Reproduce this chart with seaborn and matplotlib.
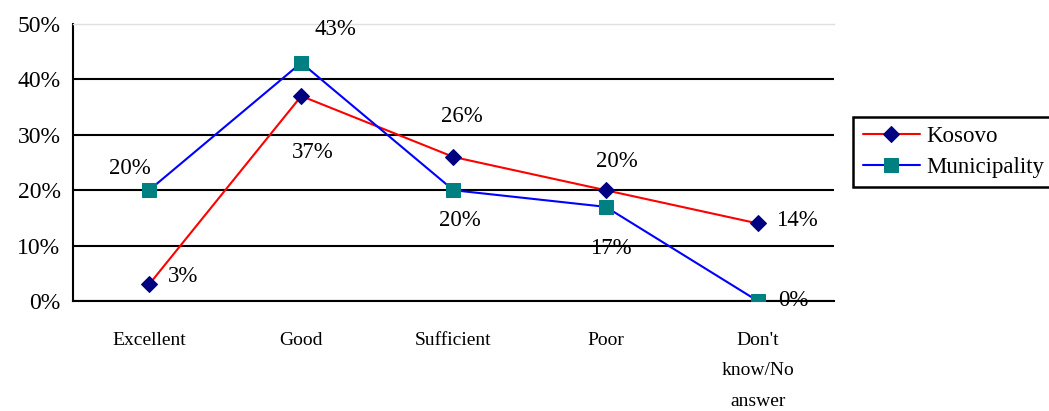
import matplotlib
matplotlib.use("Agg")
import matplotlib.pyplot as plt
import seaborn as sns
import pandas as pd

categories = ["Excellent", "Good", "Sufficient", "Poor", "Don't\nknow/No\nanswer"]
kosovo = [3, 37, 26, 20, 14]
municipality = [20, 43, 20, 17, 0]
y_ticks = [0, 10, 20, 30, 40, 50]

sns.set_theme(style="white")
plt.rcParams["font.family"] = ["Liberation Serif", "DejaVu Serif"]
plt.rcParams["text.color"] = "black"
plt.rcParams["xtick.color"] = "black"
plt.rcParams["ytick.color"] = "black"
plt.rcParams["xtick.labelcolor"] = "black"
plt.rcParams["ytick.labelcolor"] = "black"

fig = plt.figure(figsize=(10.49, 4.11), dpi=100)
ax = fig.add_axes([0.0696, 0.2676, 0.7254, 0.674])

df = pd.DataFrame({
    "pos": list(range(len(categories))) * 2,
    "value": kosovo + municipality,
    "series": ["Kosovo"] * len(kosovo) + ["Municipality"] * len(municipality),
})

styles = {
    "Kosovo": dict(color="#ff0000", marker="D", mfc="#000080", ms=8),
    "Municipality": dict(color="#0000ff", marker="s", mfc="#008080", ms=9.5),
}
for name, st in styles.items():
    sub = df[df["series"] == name]
    sns.lineplot(data=sub, x="pos", y="value", ax=ax, color=st["color"],
                 linewidth=1.5, marker=st["marker"], markersize=st["ms"],
                 markerfacecolor=st["mfc"], markeredgecolor=st["mfc"],
                 label=name, legend=False, zorder=5)

# value labels (offsets in pixels)
k_offsets = [(34, 8), (11, -56), (8, 40), (11, 29), (39, 3)]
m_offsets = [(-19, 22), (34, 33), (6, -30), (5, -42), (35, 1)]
for i, (v, off) in enumerate(zip(kosovo, k_offsets)):
    ax.annotate(f"{v}%", (i, v), xytext=off, textcoords="offset pixels",
                ha="center", va="center", fontsize=16.5, color="black", zorder=6)
for i, (v, off) in enumerate(zip(municipality, m_offsets)):
    ax.annotate(f"{v}%", (i, v), xytext=off, textcoords="offset pixels",
                ha="center", va="center", fontsize=16.5, color="black", zorder=6)

ax.set_xlim(-0.5, len(categories) - 0.5)
ax.set_ylim(0, 50)
ax.set_yticks(y_ticks)
ax.set_yticklabels([f"{t}%" for t in y_ticks], fontsize=17)
ax.set_xticks(range(len(categories)))
ax.set_xticklabels(categories, fontsize=14, linespacing=2.05)
ax.set_xticks([i - 0.5 for i in range(len(categories) + 1)], minor=True)
ax.tick_params(axis="x", which="major", length=0, pad=22)
ax.tick_params(axis="x", which="minor", length=7, width=1.5, color="black", direction="out")
ax.tick_params(axis="y", length=6, width=1.5, color="black", direction="out", pad=3)
ax.set_xlabel("")
ax.set_ylabel("")

ax.yaxis.grid(True, color="black", linewidth=1.5)
ax.get_ygridlines()[-1].set_color("#e0e0e0")
ax.set_axisbelow(True)

ax.spines["right"].set_visible(False)
ax.spines["top"].set_color("#e0e0e0")
ax.spines["top"].set_linewidth(1.0)
for side in ["left", "bottom"]:
    ax.spines[side].set_color("black")
    ax.spines[side].set_linewidth(1.5)

leg = fig.legend(loc="center left", bbox_to_anchor=(853 / 1049, 1 - 152 / 411),
                 borderaxespad=0, fontsize=16.5, frameon=True, fancybox=False,
                 framealpha=1, edgecolor="black", borderpad=0.42, handlelength=2.5,
                 handletextpad=0.3, labelspacing=0.4)
leg.get_frame().set_linewidth(1.8)

fig.savefig("out.png", dpi=100)
